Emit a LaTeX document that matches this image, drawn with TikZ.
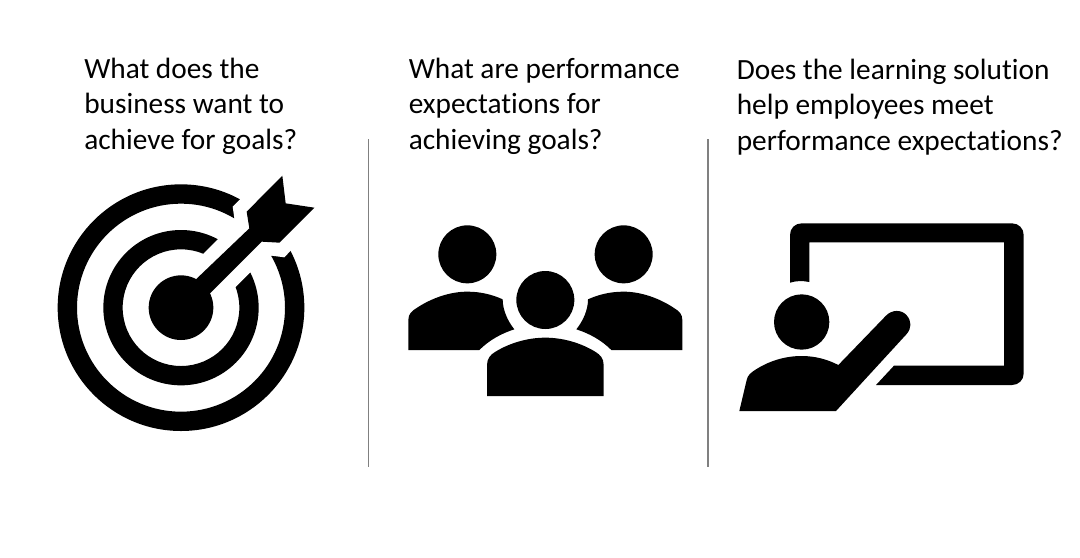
\documentclass[tikz,border=0pt]{standalone}
\usepackage{fontspec}
\setmainfont[Ligatures={NoCommon,TeX},Contextuals=NoAlternate]{Carlito}
\tikzset{
  qtext/.style={inner sep=0pt,align=left,font=\fontsize{22}{26.6}\selectfont,text=black},
  sep/.style={draw=black!50,line width=0.8pt},
  icon/.style={x=0.25pt,y=-0.25pt},
  ink/.style={fill=black,draw=none},
  clear/.style={fill=white,draw=none}
}
\begin{document}
\begin{tikzpicture}[x=0.75pt,y=-0.75pt]
\useasboundingbox[fill=white] (0,0) rectangle (1080,557);
% texts
\node[qtext,anchor=north west] (q1) at (84,57.7) {What does the\\business want to\\achieve for goals?};
\node[qtext,anchor=north west] (q2) at (408.5,57.7) {What are performance\\expectations for\\achieving goals?};
\node[qtext,anchor=north west] (q3) at (736.5,58.5) {Does the learning solution\\help employees meet\\performance expectations?};
% separators
\coordinate (s1a) at (368.5,139); \coordinate (s1b) at (368.5,467);
\coordinate (s2a) at (708,139); \coordinate (s2b) at (708,467);
\draw[sep] (s1a) -- (s1b);
\draw[sep] (s2a) -- (s2b);
% target
\begin{scope}[shift={(40,160)},icon]
  \fill[ink,even odd rule] (423,443) circle (370) (423,443) circle (312)
                           (423,443) circle (233) (423,443) circle (175);
  \fill[clear] (440,331) -- (540,231) -- (583,175) -- (578,140) -- (600,118) -- (680,60) -- (830,200) -- (752,272) -- (733,292) -- (695,287) -- (632,336) -- (540,428) -- cycle;
  \fill[ink] (423,443) circle (97);
  \fill[ink] (450,375) -- (628,205) -- (620,155) -- (727,47) -- (737,130) -- (823,143) -- (718,248) -- (665,245) -- (495,415) -- cycle;
\end{scope}
% people
\begin{scope}[shift={(395,210)},icon]
  \fill[ink] (217,133) circle (87);
  \fill[ink] (686,133) circle (87);
  \fill[ink] (451,270) circle (87);
  \fill[ink] (276,558) -- (276,465) .. controls (276,445) and (287,434) .. (300,426) .. controls (345,398) and (400,383) .. (451,383) .. controls (502,383) and (557,398) .. (602,426) .. controls (615,434) and (626,445) .. (626,465) -- (626,558) -- cycle;
  \fill[ink] (40,420) -- (40,330) .. controls (40,312) and (50,303) .. (65,294) .. controls (110,264) and (165,245) .. (217,245) .. controls (255,245) and (290,253) .. (323,268) .. controls (323,300) and (338,333) .. (358,358) .. controls (320,370) and (283,390) .. (253,420) -- cycle;
  \fill[ink] (862,420) -- (862,330) .. controls (862,312) and (852,303) .. (837,294) .. controls (792,264) and (737,245) .. (686,245) .. controls (647,245) and (612,253) .. (579,268) .. controls (579,300) and (564,333) .. (544,358) .. controls (582,370) and (619,390) .. (649,420) -- cycle;
\end{scope}
% presenter
\begin{scope}[shift={(730,210)},icon]
  \fill[ink] (180,218) -- (180,75) .. controls (180,55) and (195,40) .. (215,40) -- (846,40) .. controls (866,40) and (881,55) .. (881,75) -- (881,490) .. controls (881,510) and (866,525) .. (846,525) -- (438,525) -- (492,467) -- (822,467) -- (822,97) -- (238,97) -- (238,216) .. controls (218,212) and (200,212) .. (180,218) -- cycle;
  \fill[ink] (215,336) circle (83);
  \fill[ink] (28,603) -- (50,510) .. controls (53,496) and (62,489) .. (72,482) .. controls (115,453) and (165,438) .. (215,438) .. controls (255,438) and (292,448) .. (325,465) -- (467,318) .. controls (485,298) and (515,298) .. (530,316) .. controls (545,333) and (545,355) .. (530,372) -- (318,603) -- cycle;
\end{scope}
\end{tikzpicture}
\end{document}
